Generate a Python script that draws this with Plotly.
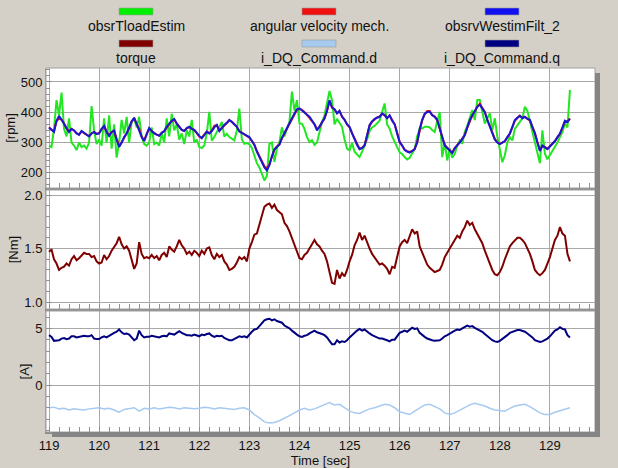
import numpy as np
import plotly.graph_objects as go
from plotly.subplots import make_subplots

# ---- sample times -------------------------------------------------------
t_fast = np.round(np.arange(119.0, 129.401, 0.1), 2)    # 0.1 s signals
t_fine = np.round(np.arange(119.0, 129.401, 0.05), 2)   # 0.05 s signals

# ---- speed panel [rpm] ---------------------------------------------------
obsrTloadEstim = [
    290, 285, 345, 440, 390, 465, 345, 320, 380, 300,
    290, 275, 300, 285, 290, 280, 300, 420, 340, 295,
    310, 290, 380, 300, 390, 280, 360, 250, 300, 375,
    330, 385, 300, 370, 380, 350, 385, 320, 295, 290,
    300, 350, 295, 300, 290, 330, 300, 380, 320, 395,
    340, 360, 310, 330, 295, 340, 320, 375, 300, 310,
    285,
    282, 290, 330, 401, 306, 318, 335, 350, 368, 320, 329, 318, 312, 307, 340, 412, 310, 296, 298,
    294, 282, 255, 232, 218, 195, 175, 190, 296, 300, 236, 280, 302, 350, 320, 345, 368, 468, 405, 440,
    363, 362, 345, 318, 302, 308, 292, 300, 335, 368, 390, 429, 470, 440, 360, 378, 366, 352, 310, 280,
    274, 298, 270, 260, 252, 270, 290, 310, 338, 350, 355, 362, 372, 401, 429, 360, 346, 320, 300, 285,
    268, 262, 252, 244, 250, 263, 278, 320, 346, 346, 352, 352, 350, 341, 335, 370, 401, 252, 300, 241,
    280, 250, 263, 290, 307, 296, 335, 355, 380, 407, 374, 440, 440, 400, 363, 380, 396, 341, 380, 320,
    280, 235, 258, 300, 318, 307, 345, 357, 368, 380, 418, 405, 370, 335, 305, 260, 232, 340, 263, 245,
    258, 274, 285, 300, 318, 335, 363, 350, 474,
]

angular_velocity_mech = [
    350, 342, 338, 370, 380, 376, 364, 345, 337, 345,
    340, 331, 327, 337, 331, 326, 321, 330, 335, 329,
    331, 344, 353, 336, 324, 334, 339, 312, 288, 300,
    316, 331, 346, 368, 379, 362, 346, 320, 307, 329,
    346, 338, 331, 326, 323, 332, 337, 351, 361, 371,
    376, 363, 353, 342, 339, 347, 351, 345, 341, 331,
    319, 316, 326, 336, 331, 339, 355, 358, 340, 349,
    357, 366, 373, 369, 361, 352, 338, 332, 326, 321,
    316, 306, 293, 272, 254, 235, 222, 215, 228, 254,
    276, 287, 294, 314, 329, 346, 362, 379, 394, 408,
    411, 408, 401, 391, 384, 372, 361, 345, 350, 367,
    379, 404, 436, 416, 409, 397, 403, 386, 376, 360,
    350, 331, 312, 293, 280, 282, 291, 323, 355, 369,
    377, 383, 386, 394, 391, 381, 389, 373, 361, 332,
    303, 290, 277, 271, 269, 272, 279, 302, 342, 373,
    393, 404, 404, 391, 386, 374, 346, 319, 292, 283,
    274, 267, 281, 290, 301, 312, 324, 348, 372, 389,
    403, 419, 428, 412, 401, 376, 354, 331, 312, 301,
    296, 300, 304, 317, 329, 350, 372, 381, 389, 381,
    385, 379, 373, 352, 332, 302, 275, 289, 286, 280,
    289, 295, 304, 317, 328, 348, 370, 369, 380,
]

obsrvWestimFilt_2 = [
    350, 342, 335, 372, 388, 375, 362, 345, 335, 345,
    340, 330, 325, 338, 332, 325, 320, 330, 335, 328,
    330, 345, 355, 335, 322, 335, 340, 310, 285, 300,
    318, 330, 348, 370, 382, 360, 345, 318, 305, 330,
    348, 338, 330, 326, 322, 332, 338, 352, 362, 372,
    378, 362, 352, 342, 338, 348, 352, 345, 342, 330,
    322, 314, 325, 336, 330, 338, 350, 358, 338, 350,
    358, 365, 375, 368, 360, 352, 336, 332, 327, 322,
    318, 305, 292, 270, 251, 232, 218, 208, 225, 255,
    278, 286, 293, 315, 330, 345, 363, 380, 396, 410,
    413, 407, 400, 392, 385, 372, 360, 340, 352, 368,
    380, 405, 440, 415, 410, 396, 405, 385, 375, 360,
    352, 330, 310, 292, 278, 282, 290, 325, 358, 370,
    378, 382, 385, 396, 390, 380, 390, 372, 360, 330,
    301, 290, 275, 270, 267, 272, 278, 300, 345, 375,
    395, 400, 402, 390, 385, 375, 345, 318, 290, 282,
    272, 265, 282, 290, 300, 312, 325, 350, 374, 390,
    405, 418, 425, 410, 400, 375, 352, 330, 310, 300,
    295, 300, 305, 318, 330, 352, 374, 382, 388, 380,
    385, 378, 375, 352, 330, 300, 272, 290, 285, 278,
    287, 295, 305, 318, 330, 350, 372, 368, 378,
]

# ---- torque panel [Nm] ---------------------------------------------------
torque = [
    1.47, 1.49, 1.40, 1.36, 1.30, 1.32, 1.33, 1.36, 1.34, 1.40,
    1.43, 1.39, 1.41, 1.44, 1.46, 1.45, 1.45, 1.42, 1.43, 1.38,
    1.36, 1.37, 1.44, 1.40, 1.43, 1.48, 1.52, 1.55, 1.61, 1.54,
    1.50, 1.52, 1.48, 1.40, 1.31, 1.36, 1.56, 1.45, 1.41, 1.42,
    1.41, 1.44, 1.41, 1.43, 1.39, 1.44, 1.46, 1.42, 1.52, 1.49,
    1.47, 1.52, 1.58, 1.53, 1.50, 1.45, 1.47, 1.44, 1.48, 1.46,
    1.43, 1.48, 1.45, 1.50, 1.51, 1.44, 1.40, 1.45, 1.42, 1.44,
    1.38, 1.35, 1.30, 1.31, 1.33, 1.37, 1.42, 1.40, 1.42, 1.38,
    1.50, 1.56, 1.63, 1.64, 1.72, 1.80, 1.89, 1.91, 1.92, 1.88,
    1.91, 1.86, 1.84, 1.82, 1.74, 1.71, 1.66, 1.60, 1.53, 1.47,
    1.41, 1.40, 1.44, 1.46, 1.50, 1.53, 1.58, 1.54, 1.52, 1.48,
    1.45, 1.38, 1.28, 1.18, 1.17, 1.30, 1.22, 1.27, 1.24, 1.30,
    1.38, 1.44, 1.53, 1.58, 1.65, 1.58, 1.62, 1.55, 1.50, 1.45,
    1.42, 1.38, 1.35, 1.36, 1.34, 1.31, 1.26, 1.33, 1.32, 1.42,
    1.52, 1.56, 1.58, 1.55, 1.62, 1.68, 1.64, 1.66, 1.52, 1.46,
    1.40, 1.35, 1.32, 1.30, 1.28, 1.29, 1.30, 1.35, 1.42, 1.46,
    1.50, 1.55, 1.58, 1.62, 1.60, 1.66, 1.70, 1.76, 1.72, 1.74,
    1.68, 1.64, 1.60, 1.55, 1.48, 1.42, 1.35, 1.30, 1.26, 1.25,
    1.28, 1.33, 1.40, 1.46, 1.52, 1.55, 1.58, 1.60, 1.60, 1.58,
    1.55, 1.50, 1.45, 1.38, 1.30, 1.27, 1.25, 1.27, 1.30, 1.36,
    1.42, 1.50, 1.58, 1.62, 1.70, 1.64, 1.62, 1.45, 1.38,
]

# ---- current panel [A] ---------------------------------------------------
i_dq_command_d = [
    -2.00, -1.95, -2.10, -2.05, -2.20, -2.10, -2.15, -2.20, -2.10, -2.05,
    -2.00, -2.10, -2.05, -2.20, -2.40, -2.15, -2.10, -2.00, -2.30, -2.05,
    -2.10, -2.00, -2.10, -2.05, -1.95, -2.00, -2.10, -2.00, -2.05, -2.10,
    -2.05, -1.95, -2.00, -2.10, -2.00, -2.05, -2.10, -2.15, -2.05, -2.00,
    -2.20, -2.60, -2.90, -3.25, -3.35, -3.30, -3.15, -2.95, -2.70, -2.45,
    -2.20, -2.05, -2.20, -2.10, -1.90, -1.75, -1.55, -1.75, -1.70, -2.00,
    -2.30, -2.45, -2.50, -2.30, -2.10, -2.00, -1.85, -1.70, -1.75, -2.00,
    -2.35, -2.50, -2.60, -2.30, -2.00, -1.75, -1.70, -1.90, -2.10, -2.45,
    -2.60, -2.45, -2.20, -2.00, -1.75, -1.60, -1.70, -1.85, -2.05, -2.20,
    -2.25, -2.30, -2.05, -1.85, -1.75, -1.70, -1.90, -2.20, -2.45, -2.60,
    -2.60, -2.40, -2.25, -2.10, -2.00,
]

i_dq_command_q = [
    4.40, 4.25, 3.90, 3.95, 3.95, 4.10, 4.15, 4.05, 4.10, 4.30,
    4.30, 4.20, 4.25, 4.35, 4.35, 4.30, 4.30, 4.40, 4.10, 4.05,
    4.05, 4.20, 4.30, 4.20, 4.35, 4.45, 4.60, 4.70, 4.90, 4.65,
    4.50, 4.55, 4.45, 4.20, 3.95, 4.10, 4.80, 4.40, 4.20, 4.25,
    4.25, 4.35, 4.30, 4.25, 4.20, 4.30, 4.35, 4.30, 4.55, 4.50,
    4.45, 4.60, 4.75, 4.60, 4.50, 4.40, 4.40, 4.35, 4.45, 4.40,
    4.30, 4.45, 4.40, 4.50, 4.55, 4.35, 4.25, 4.35, 4.30, 4.35,
    4.15, 4.05, 3.95, 3.95, 4.05, 4.15, 4.30, 4.25, 4.30, 4.20,
    4.50, 4.70, 4.90, 4.95, 5.20, 5.45, 5.70, 5.80, 5.85, 5.70,
    5.80, 5.65, 5.55, 5.50, 5.25, 5.15, 5.00, 4.80, 4.60, 4.45,
    4.30, 4.25, 4.35, 4.40, 4.55, 4.65, 4.80, 4.65, 4.60, 4.50,
    4.40, 4.20, 3.90, 3.60, 3.60, 3.95, 3.75, 3.85, 3.80, 3.95,
    4.20, 4.40, 4.65, 4.80, 4.95, 4.80, 4.90, 4.70, 4.55, 4.40,
    4.30, 4.20, 4.10, 4.10, 4.05, 3.95, 3.85, 4.00, 4.00, 4.30,
    4.60, 4.70, 4.80, 4.70, 4.90, 5.05, 4.95, 5.00, 4.60, 4.40,
    4.25, 4.10, 4.00, 3.95, 3.90, 3.90, 3.95, 4.10, 4.30, 4.40,
    4.55, 4.70, 4.80, 4.90, 4.85, 5.00, 5.10, 5.25, 5.15, 5.20,
    5.05, 4.95, 4.85, 4.70, 4.50, 4.30, 4.10, 3.95, 3.85, 3.80,
    3.90, 4.05, 4.25, 4.40, 4.60, 4.70, 4.80, 4.85, 4.85, 4.80,
    4.70, 4.55, 4.40, 4.20, 3.95, 3.85, 3.80, 3.85, 3.95, 4.10,
    4.30, 4.55, 4.80, 4.90, 5.10, 4.95, 4.90, 4.40, 4.20,
]

# ---- legend entries (3 columns x 2 rows) -----------------------------------
legend_names = ["obsrTloadEstim", "angular velocity mech.", "obsrvWestimFilt_2",
                "torque", "i_DQ_Command.d", "i_DQ_Command.q"]
legend_colors = ["#00F000", "#F01010", "#1010F0", "#800000", "#A6CAF0", "#000080"]

# ---- page geometry (pixels) ------------------------------------------------
W, H = 618, 468
ML, MR, MT, MB = 46, 23, 68, 36
PW, PH = W - ML - MR, H - MT - MB


def px(x):
    return (x - ML) / PW


def py(y):
    return (H - MB - y) / PH


FONT = "Arial, Liberation Sans, sans-serif"
BG = "#D4D0C8"
GRID = "#A9A9A9"
EDGE = "#8A8A8A"

fig = make_subplots(rows=3, cols=1, shared_xaxes=True)

fig.add_trace(go.Scatter(x=t_fine, y=obsrTloadEstim, mode="lines",
                         line=dict(color="#22E622", width=2)), row=1, col=1)
fig.add_trace(go.Scatter(x=t_fine, y=angular_velocity_mech, mode="lines",
                         line=dict(color="#F01010", width=2)), row=1, col=1)
fig.add_trace(go.Scatter(x=t_fine, y=obsrvWestimFilt_2, mode="lines",
                         line=dict(color="#1818D0", width=2)), row=1, col=1)
fig.add_trace(go.Scatter(x=t_fine, y=torque, mode="lines",
                         line=dict(color="#800000", width=2)), row=2, col=1)
fig.add_trace(go.Scatter(x=t_fast, y=i_dq_command_d, mode="lines",
                         line=dict(color="#A6CAF0", width=1.5)), row=3, col=1)
fig.add_trace(go.Scatter(x=t_fine, y=i_dq_command_q, mode="lines",
                         line=dict(color="#000080", width=2)), row=3, col=1)

domains = [[py(188), py(68)], [py(309), py(190)], [py(432), py(311)]]
yranges = [[150, 546], [0.935, 2.047], [-4.14, 6.53]]
yminor = [20, 0.1, 1]
ytitles = ["[rpm]", "[Nm]", "[A]"]
ytickvals = [[200, 300, 400, 500], [1.0, 1.5, 2.0], [0, 5]]
yticktext = [["200", "300", "400", "500"], ["1.0", "1.5", "2.0"], ["0", "5"]]

for i in range(3):
    r = i + 1
    fig.update_yaxes(
        row=r, col=1, domain=domains[i], range=yranges[i],
        tickvals=ytickvals[i], ticktext=yticktext[i],
        showgrid=True, gridcolor=GRID, gridwidth=1, zeroline=False,
        showline=True, linecolor="#A0A0A0", linewidth=1,
        ticks="inside", ticklen=6, tickcolor="#909090",
        minor=dict(dtick=yminor[i], ticks="inside", ticklen=4,
                   tickcolor="#909090", showgrid=False),
        tickfont=dict(family=FONT, size=13, color="#111111"),
        title=dict(text=ytitles[i], font=dict(family=FONT, size=13, color="#111111"),
                   standoff=2),
        automargin=False, fixedrange=True,
    )
    fig.update_xaxes(
        row=r, col=1, range=[118.94, 129.9], dtick=1, tick0=119,
        showgrid=True, gridcolor=GRID, gridwidth=1, zeroline=False,
        showline=True, linecolor=EDGE, linewidth=2,
        ticks="inside", ticklen=5, tickcolor="#909090",
        minor=dict(dtick=0.2, ticks="inside", ticklen=5,
                   tickcolor="#909090", showgrid=False),
        showticklabels=(r == 3),
        tickfont=dict(family=FONT, size=13, color="#111111"),
        automargin=False, fixedrange=True,
    )

fig.update_xaxes(row=3, col=1,
                 title=dict(text="Time [sec]",
                            font=dict(family=FONT, size=13, color="#111111"),
                            standoff=0))

shapes = []
# thin frame around each panel
for i in range(3):
    yref = "y domain" if i == 0 else f"y{i + 1} domain"
    xref = "x domain" if i == 0 else f"x{i + 1} domain"
    shapes.append(dict(type="rect", xref=xref, yref=yref, x0=0, x1=1, y0=0, y1=1,
                       line=dict(color="#A0A0A0", width=1), layer="above"))

# drop shadow along the right and bottom of the plot block
shapes.append(dict(type="rect", xref="paper", yref="paper",
                   x0=px(595), x1=px(600), y0=py(437), y1=py(73),
                   fillcolor="#858585", line=dict(width=0)))
shapes.append(dict(type="rect", xref="paper", yref="paper",
                   x0=px(52), x1=px(600), y0=py(437), y1=py(432),
                   fillcolor="#858585", line=dict(width=0)))

annotations = []
col_centers = [136, 319, 502]
swatch_rows = [(8, 15), (40, 47)]
text_rows = [26, 58]
for k, (name, color) in enumerate(zip(legend_names, legend_colors)):
    row, col = divmod(k, 3)
    cx = col_centers[col]
    y0, y1 = swatch_rows[row]
    shapes.append(dict(type="rect", xref="paper", yref="paper",
                       x0=px(cx - 17), x1=px(cx + 17), y0=py(y1), y1=py(y0),
                       fillcolor=color, line=dict(color="#9A9A9A", width=0.6)))
    annotations.append(dict(xref="paper", yref="paper", x=px(cx), y=py(text_rows[row]),
                            text=name, showarrow=False, xanchor="center", yanchor="middle",
                            font=dict(family=FONT, size=14, color="#111111")))

fig.update_layout(
    width=W, height=H,
    margin=dict(l=ML, r=MR, t=MT, b=MB, pad=0),
    paper_bgcolor=BG, plot_bgcolor="white",
    showlegend=False, hovermode=False,
    shapes=shapes, annotations=annotations,
)

fig.write_html("out.html", config={"displayModeBar": False})
